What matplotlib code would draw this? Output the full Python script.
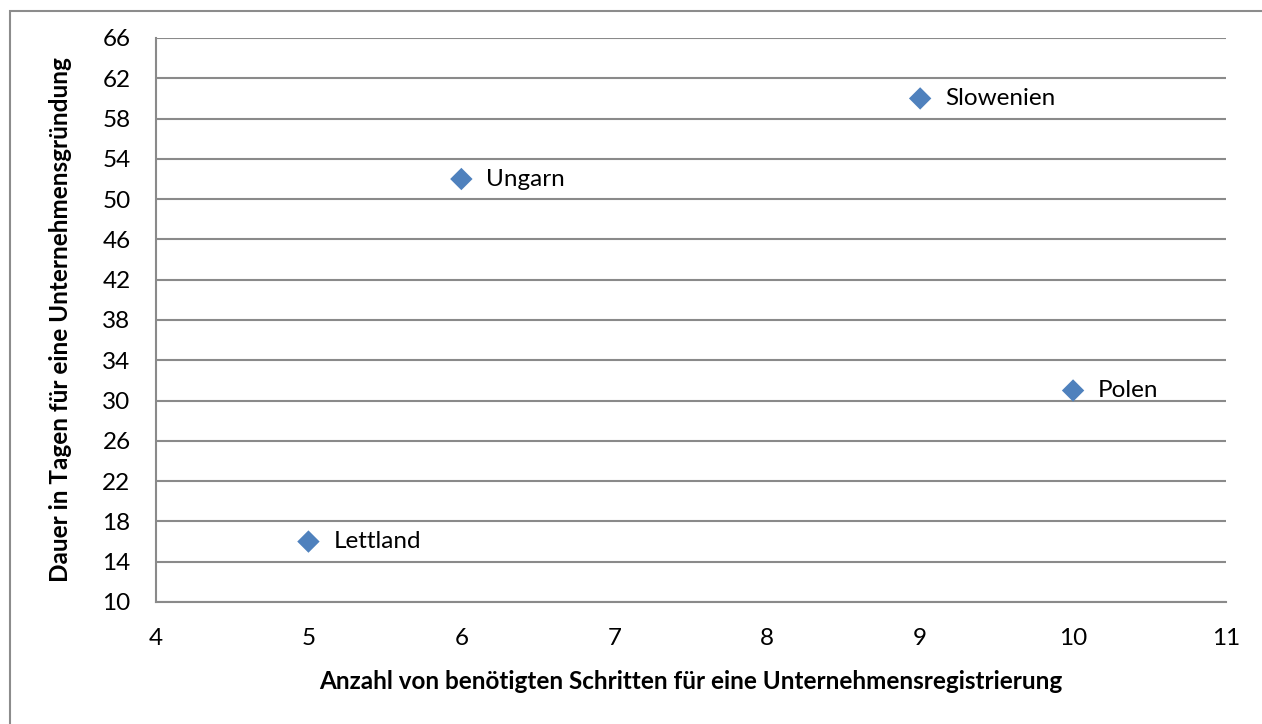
import matplotlib
matplotlib.use("Agg")
import matplotlib.pyplot as plt
from matplotlib.patches import Rectangle

# Data: registration steps vs. days needed to found a company
countries = ["Lettland", "Ungarn", "Slowenien", "Polen"]
steps = [5, 6, 9, 10]
days = [16, 52, 60, 31]

x_ticks = [4, 5, 6, 7, 8, 9, 10, 11]
y_ticks = [10, 14, 18, 22, 26, 30, 34, 38, 42, 46, 50, 54, 58, 62, 66]

plt.rcParams["font.family"] = ["Lato", "DejaVu Sans"]

W, H, DPI = 1262, 724, 100
FS = 17.5
fig = plt.figure(figsize=(W / DPI, H / DPI), dpi=DPI)
fig.patch.set_facecolor("white")

# Chart frame
fig.patches.append(Rectangle((10 / W, -0.1), 1.2, 1 - 11 / H + 0.1,
                             transform=fig.transFigure, fill=False,
                             edgecolor="#8c8c8c", linewidth=1.5))

ax = fig.add_axes([155.5 / W, 1 - 602 / H, (1226 - 155.5) / W, (602 - 38) / H])
ax.set_xlim(4, 11)
ax.set_ylim(10, 66)
ax.set_xticks(x_ticks)
ax.set_yticks(y_ticks)
ax.tick_params(length=0, labelsize=FS, colors="black")
ax.tick_params(axis="y", pad=18)
ax.tick_params(axis="x", pad=19)

grid_color = "#8a8a8a"
ax.grid(axis="y", color=grid_color, linewidth=1.5)
ax.set_axisbelow(True)
for side in ["top", "right"]:
    ax.spines[side].set_visible(False)
for side in ["left", "bottom"]:
    ax.spines[side].set_color(grid_color)
    ax.spines[side].set_linewidth(1.5)

ax.scatter(steps, days, marker="D", s=130, color="#4F81BD", zorder=3,
           edgecolors="none")
for name, xv, yv in zip(countries, steps, days):
    ax.annotate(name, (xv, yv), xytext=(18, 0), textcoords="offset points",
                va="center", ha="left", fontsize=FS)

ax.set_xlabel("Anzahl von benötigten Schritten für eine Unternehmensregistrierung",
              fontsize=FS, fontweight="bold", labelpad=15)
ax.set_ylabel("Dauer in Tagen für eine Unternehmensgründung",
              fontsize=FS, fontweight="bold", labelpad=22)

fig.savefig("out.png", dpi=DPI)
